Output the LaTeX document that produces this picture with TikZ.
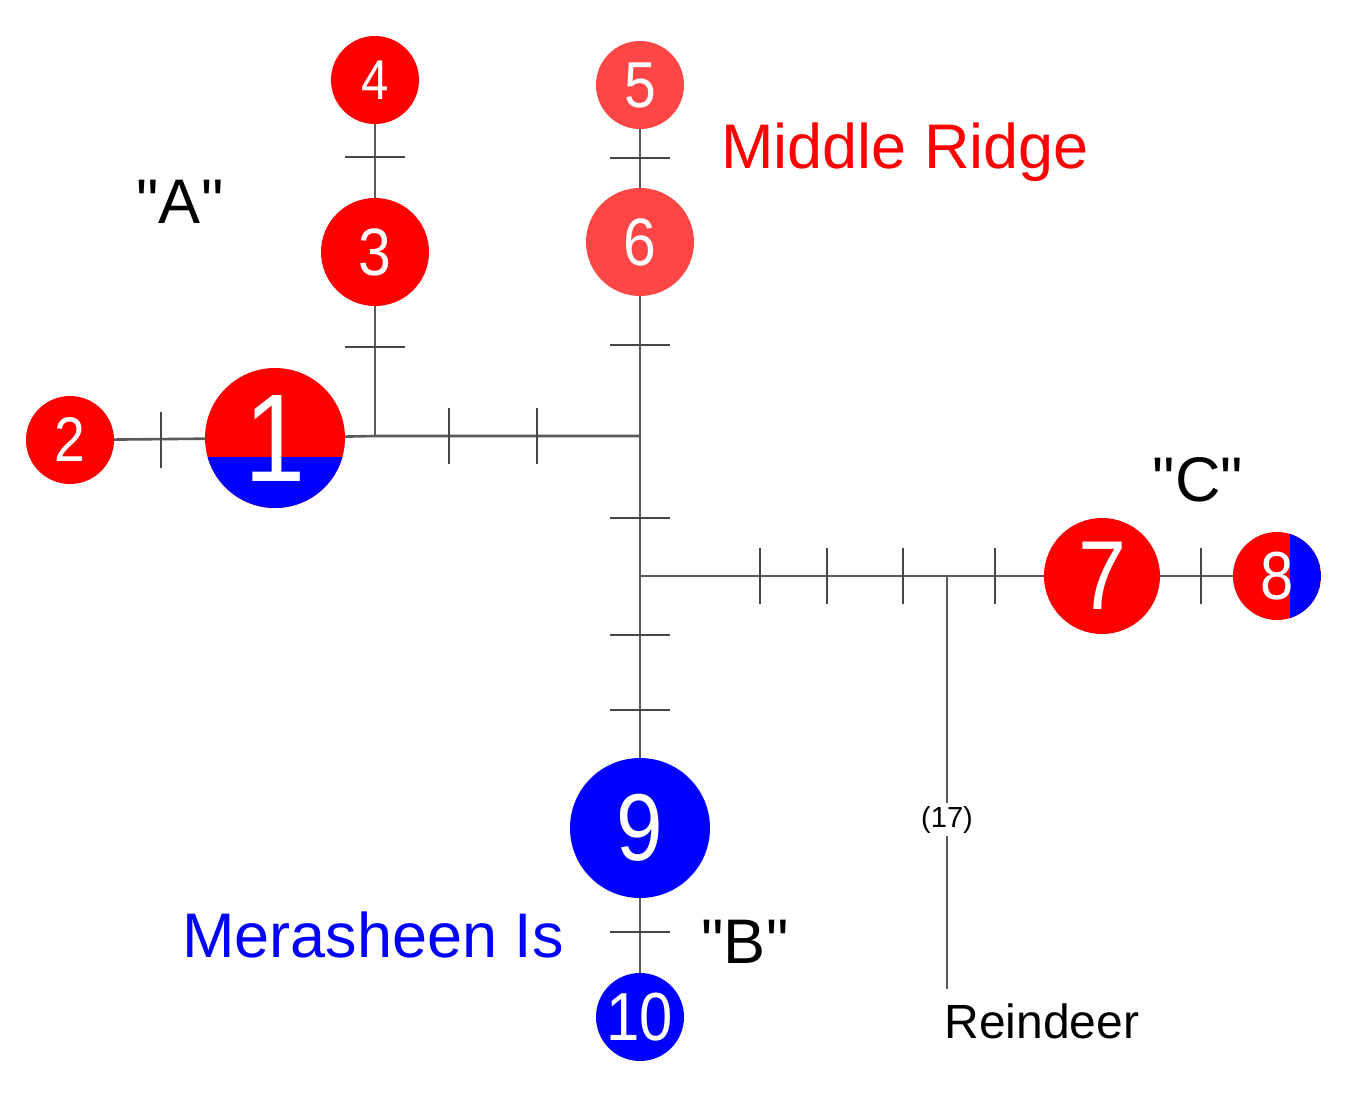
\documentclass[tikz,border=0pt]{standalone}
\usepackage{fontspec}
\setmainfont{Liberation Sans}
\usepackage{graphicx}
\usepackage{tikz}
\usetikzlibrary{calc}
\definecolor{hapRed}{RGB}{255,0,0}
\definecolor{hapPink}{RGB}{255,70,70}
\definecolor{hapBlue}{RGB}{0,0,255}
\definecolor{linkGray}{RGB}{90,90,90}
\newcommand{\fsz}[1]{\fontsize{#1pt}{#1pt}\selectfont}
\newcommand{\hnum}[1]{\scalebox{0.88}[1]{#1}}
\newcommand{\qlbl}[1]{\textquotedbl#1\textquotedbl}

\begin{document}
\begin{tikzpicture}[x=1pt,y=-1pt,
    hap/.style={circle,inner sep=0pt,text=white,minimum size=#1},
    link/.style={linkGray,line width=2.6pt},
    mut/.style={linkGray!80!black,line width=2.4pt},
    lbl/.style={inner sep=0pt,font=\fsz{63}}]
  \useasboundingbox[fill=white] (0,0) rectangle (1350,1100);
  % haplotypes
  \node[hap=140pt,fill=hapRed,font=\fsz{125},
    path picture={\fill[hapBlue] ([yshift=-19pt]path picture bounding box.west)
      rectangle (path picture bounding box.south east);}] (n1) at (275,438) {\hnum{1}};
  \node[hap=88pt,fill=hapRed,font=\fsz{63}] (n2) at (70,440) {\hnum{2}};
  \node[hap=108pt,fill=hapRed,font=\fsz{67}] (n3) at (375,252) {\hnum{3}};
  \node[hap=88pt,fill=hapRed,font=\fsz{56}] (n4) at (375,80) {\hnum{4}};
  \node[hap=88pt,fill=hapPink,font=\fsz{65}] (n5) at (640,85) {\hnum{5}};
  \node[hap=108pt,fill=hapPink,font=\fsz{67}] (n6) at (640,242) {\hnum{6}};
  \node[hap=116pt,fill=hapRed,font=\fsz{98}] (n7) at (1102,576) {\hnum{7}};
  \node[hap=88pt,fill=hapRed,font=\fsz{68},
    path picture={\fill[hapBlue] ([xshift=13pt]path picture bounding box.north)
      rectangle (path picture bounding box.south east);}] (n8) at (1277,576) {\hnum{8}};
  \node[hap=140pt,fill=hapBlue,font=\fsz{95}] (n9) at (640,828) {\hnum{9}};
  \node[hap=88pt,fill=hapBlue,font=\fsz{68}] (n10) at (640,1017) {\hnum{10}};
  % junctions
  \coordinate (j1) at (375,436);
  \coordinate (j2) at (640,436);
  \coordinate (j3) at (640,576);
  \coordinate (j4) at (947,576);
  % labels
  \node[lbl] (labA) at (180,202) {\qlbl{A}};
  \node[lbl,text=hapRed] (ridge) at (905,152) {Middle Ridge};
  \node[lbl] (labC) at (1198,480) {\qlbl{C}};
  \node[lbl] (labB) at (745,942) {\qlbl{B}};
  \node[lbl,text=hapBlue] (merasheen) at (373,935) {Merasheen Is};
  \node[inner sep=0pt,font=\fsz{48}] (reindeer) at (1042,1021) {Reindeer};
  % links
  \draw[link] (n2) -- (n1);
  \draw[link] (n1) -- (j1) -- (j2);
  \draw[link] (n4) -- (n3);
  \draw[link] (n3) -- (j1);
  \draw[link] (n5) -- (n6);
  \draw[link] (n6) -- (n9);
  \draw[link] (j3) -- (n7);
  \draw[link] (n7) -- (n8);
  \draw[link] (n9) -- (n10);
  \draw[link] (j4) -- ($(j4 |- reindeer.north)+(0,-14)$)
    node[pos=0.59,fill=white,text=black,inner sep=3pt,font=\fsz{29}] (gap) {(17)};
  % mutation ticks
  \foreach \x/\y in {161/440, 449/436, 537/436, 760/576, 827/576, 903/576, 995/576, 1201/576}
    \draw[mut] (\x,\y-28) -- (\x,\y+28);
  \foreach \x/\y in {375/347, 375/157, 640/158, 640/345, 640/518, 640/635, 640/710, 640/932}
    \draw[mut] (\x-30,\y) -- (\x+30,\y);
\end{tikzpicture}
\end{document}
